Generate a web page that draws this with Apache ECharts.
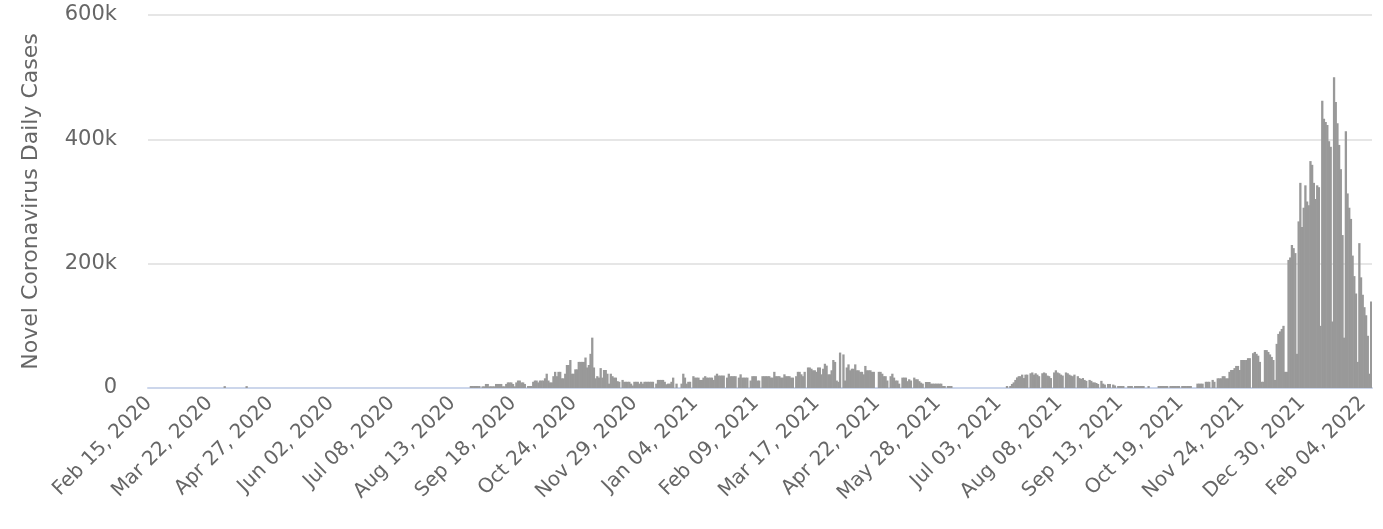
<!DOCTYPE html>
<html>
<head>
<meta charset="utf-8">
<script src="https://cdn.jsdelivr.net/npm/echarts@6/dist/echarts.min.js"></script>
<style>
html,body{margin:0;padding:0;background:#fff;}
#chart{width:1383px;height:529px;}
</style>
</head>
<body>
<div id="chart"></div>
<script>
// Daily values, Feb 15 2020 onward
var startDate = [2020, 1, 15]; // year, month index, day
var yTicks = [0, 200000, 400000, 600000];

var casesSpring2020 = [
0,0,0,0,0,0,0,0,0,0,0,0,0,0,0,0,0,0,0,0,0,0,0,0,0,0,0,0,0,0,
0,0,0,0,0,0,0,0,0,0,0,0,0,0,0,3000,0,0,0,0,0,0,0,0,0,0,0,0,3000,0,
0,0,0,0,0,0,0,0,0,0,0,0,0,0,0,0,0,0,0,0,0,0,0,0,0,0,0,0,0,0,
0,0,0,0,0,0,0,0,0,0,0,0,0,0,0,0,0,0,0,0,0,0,0,0,0,0,0,0,0,0,
0,0,0,0,0,0,0,0,0,0,0,0,0,0,0,0,0,0,0,0,0,0,0,0,0,0,0,0,0,0,
0,0,0,0,0,0,0,0,0,0,0,0,0,0,0,0,0,0,0,0,0,0,0,0,0,0,0,0,0,0,
0,0,0,0,0
];
var casesAutumn2020 = [
0,0,0,0,0,0, 3200,3200,3200,3200,3200,3200, 0, 2700,2700, 6500,6500,
2700,2700,2700,2700, 6500,6500,6500,6500, 2700,2700, 6500, 9000,9000,9000,
6500, 2700, 9000, 12000,12000, 9000,9000, 6500, 0, 3200,3200,3200, 10000,
12000,12000, 9000, 12000,12000,12000, 15600, 23000, 12000, 9000,9000, 19000,
26000, 19000, 26000,26000, 15600,15600, 23000, 37000,37000, 45000, 23000,23000,
30000,30000, 42000,42000,42000,42000, 49000, 33000, 37000, 55000, 81000,
33000, 15600, 19000
];
var casesWinter2020 = [
16700,32000,16700,29000,29000,23000,7000,23000,19000,16700,16700,11000,10000,
0, 13000, 10000,10000,10000,10000, 7000, 4000, 10000,10000,10000, 7000, 10000, 7000,
10000,10000,10000,10000,10000,10000, 0, 7000, 13000,13000,13000,13000, 10000, 6000,
7000, 7000, 10000, 16700, 0, 7000, 0, 0, 7000, 23000, 16700, 7000, 10000, 10000, 0,
19000, 16700,16700,16700, 13000, 13000, 16700, 19000, 16700,16700,16700,16700,
13000, 20000, 23000, 20000,20000,20000,20000, 0, 16700, 23000
];
var casesSpring2021 = [
19000,19000,19000,19000, 0, 16700, 22000, 16700,16700,16700,16700, 0, 12000,
19000,19000,19000, 12000,12000, 0, 19000,19000,19000,19000,19000, 16700, 16700,
26000, 19000,19000,19000, 16700,16700, 22000, 19000,19000,19000, 16700,16700, 0,
19000, 26000,26000, 22000, 19000, 26000, 0, 33000,33000, 31000, 28500,28500,
26000, 33000,33000, 22000, 31000, 39000, 36000, 22000,22000, 28500, 45000, 42000,
12000, 10000, 57000, 0, 54000, 12000, 33000, 38000, 28500, 31000, 31000, 38000,
28500, 28500, 26000, 26000, 22000
];
var casesSummer2021 = [
35500, 28500,28500,28500, 26000,26000, 0,0, 26000,26000, 23000, 19000,19000,
12000, 0, 19000, 23000, 16700, 12000, 12000, 7000, 0, 16700,16700,16700, 11000,
14000, 12000, 0, 16700, 14000,14000, 11000, 8600, 7000, 0, 9700,9700,9700,
7000,7000,7000,7000,7000,7000,7000, 3200,3200, 0, 3200,3200,3200,
0,0,0,0,0,0,0,0,0,0,0,0,0,0,0,0,0,0,0,0,0,0,0,0,0,0,0,0
];
var casesAutumn2021 = [
0,0,0,0, 3200, 0, 3200, 6500, 9000, 13000, 17000, 19000, 19000, 21500, 16000,
21500, 21500, 0, 23700, 25000, 21500, 23700, 21500, 19000, 0, 23700, 25000,
23700, 20000, 19000, 16000, 0, 25000, 28500, 25000, 23700, 21500, 20000, 0,
25000, 23700, 21500, 20000, 19000, 21500, 0, 19000, 16000, 14500, 16000, 13000,
11500, 0, 13000, 11500, 9000, 9000, 8000, 6500, 0, 11500, 7000, 5500, 0, 6500,
6500, 0, 5500, 4000, 0, 3200, 3200, 3200, 3200, 0, 0, 3200, 3200, 3200, 0
];
var casesLate2021 = [
3200,3200,3200,3200,3200,3200, 0,0, 3200, 0,0,0,0,0, 3200,3200,3200,3200,3200,3200,
0, 3200,3200,3200,3200,3200,3200, 0, 3200,3200,3200,3200,3200,3200, 0,0,0,
7000,7000,7000,7000, 0, 10000,10000,10000, 0, 13000, 10000, 0, 15600,15600,15600,
19000,19000, 15600,15600, 26000, 29000,29000, 32000, 35500,35500, 29000
];
var casesOmicron = [
45000,45000,45000,45000, 48000,48000, 0, 56000, 58000, 55000, 52000, 42000,
10000, 10000, 61000, 61000, 58000, 54000, 50000, 45000, 13000, 71000, 87000,
91000, 95000, 100000, 26000, 26000, 206000, 210000, 230000, 225000, 217000,
55000, 268000, 330000, 259000, 290000, 326000, 300000, 294000, 365000, 359000,
330000, 304000, 326000, 323000, 100000, 462000, 433000, 428000, 423000, 397000,
388000, 107000, 500000, 460000, 426000, 391000, 352000, 246000, 81000, 413000,
313000, 290000, 272000, 213000, 180000, 152000, 42000, 233000, 178000, 150000,
130000, 117000, 84000, 23000, 139000
];

var values = [].concat(casesSpring2020, casesAutumn2020, casesWinter2020,
  casesSpring2021, casesSummer2021, casesAutumn2021, casesLate2021, casesOmicron);

var monthNames = ['Jan','Feb','Mar','Apr','May','Jun','Jul','Aug','Sep','Oct','Nov','Dec'];
var categories = [];
for (var i = 0; i < values.length; i++) {
  var d = new Date(Date.UTC(startDate[0], startDate[1], startDate[2] + i));
  var dd = d.getUTCDate();
  categories.push(monthNames[d.getUTCMonth()] + ' ' + (dd < 10 ? '0' + dd : dd) + ', ' + d.getUTCFullYear());
}

var FONT = '"DejaVu Sans", sans-serif';
var chart = echarts.init(document.getElementById('chart'), null, {renderer: 'canvas'});
chart.setOption({
  animation: false,
  grid: {left: 148, right: 11, top: 15, bottom: 141, containLabel: false},
  xAxis: {
    type: 'category',
    data: categories,
    boundaryGap: true,
    axisLine: {lineStyle: {color: '#ccd6eb', width: 2}},
    axisTick: {show: false},
    splitLine: {show: false},
    axisLabel: {
      interval: 35,
      rotate: 45,
      color: '#666666',
      fontSize: 20,
      fontFamily: FONT,
      margin: 12
    }
  },
  yAxis: {
    type: 'value',
    min: yTicks[0],
    max: yTicks[yTicks.length - 1],
    interval: yTicks[1] - yTicks[0],
    name: 'Novel Coronavirus Daily Cases',
    nameLocation: 'middle',
    nameGap: 106,
    nameTextStyle: {color: '#666666', fontSize: 22, fontFamily: FONT},
    axisLine: {show: false},
    axisTick: {show: false},
    splitLine: {lineStyle: {color: '#e6e6e6', width: 2}},
    axisLabel: {
      color: '#666666',
      fontSize: 21,
      fontFamily: FONT,
      margin: 31,
      formatter: function (v) { return v === 0 ? '0' : (v / 1000) + 'k'; }
    }
  },
  series: [{
    type: 'bar',
    data: values,
    barWidth: 2.3,
    itemStyle: {color: '#999999'},
    emphasis: {disabled: true}
  }]
});
</script>
</body>
</html>
